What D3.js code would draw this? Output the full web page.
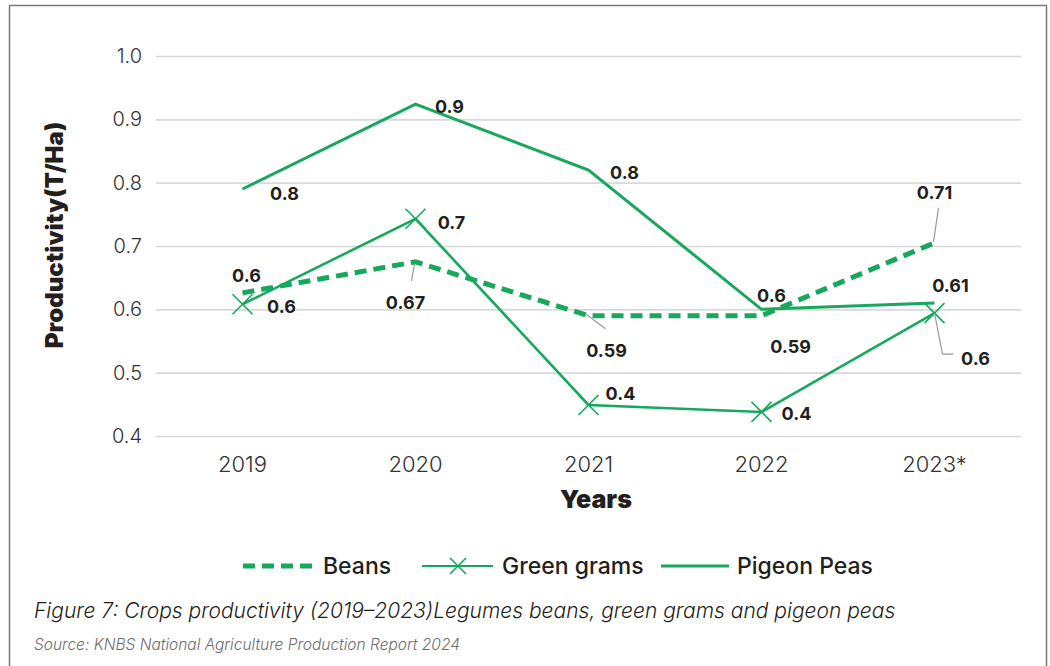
<!DOCTYPE html>
<html>
<head>
<meta charset="utf-8">
<script src="https://cdn.jsdelivr.net/npm/d3@7/dist/d3.min.js"></script>
<style>
  body { margin: 0; background: #fff; }
  svg { display: block; font-family: Inter, "Open Sans", sans-serif; }
</style>
</head>
<body>
<div id="chart"></div>
<script>
// chart values
const years = ["2019", "2020", "2021", "2022", "2023*"];
const yTicks = [0.4, 0.5, 0.6, 0.7, 0.8, 0.9, 1.0];

const beans = [0.626, 0.675, 0.59, 0.59, 0.705];
const greenGrams = [0.608, 0.743, 0.449, 0.438, 0.594];
const pigeonPeas = [0.79, 0.924, 0.82, 0.6, 0.61];

// the labels printed next to each point
const beansLabels = ["0.6", "0.67", "0.59", "0.59", "0.71"];
const greenGramsLabels = ["0.6", "0.7", "0.4", "0.4", "0.6"];
const pigeonPeasLabels = ["0.8", "0.9", "0.8", "0.6", "0.61"];

const W = 1050, H = 666;
const green = "#17a85e";
const ink = "#231f20";

const svg = d3.select("#chart").append("svg")
    .attr("width", W)
    .attr("height", H);

// outer frame
svg.append("rect")
    .attr("x", 9.5).attr("y", 5.5)
    .attr("width", 1037).attr("height", 700)
    .attr("fill", "none")
    .attr("stroke", "#7a7a7a")
    .attr("stroke-width", 1.5);

const x = d3.scaleBand().domain(years).range([156, 1021]);
const y = d3.scaleLinear().domain([0.4, 1.0]).range([436, 56]);
const cx = d => x(d) + x.bandwidth() / 2;

// grid + y ticks
const yAxis = svg.append("g")
    .attr("transform", "translate(156,0)")
    .call(d3.axisLeft(y).tickValues(yTicks).tickFormat(d3.format(".1f")).tickSize(-865).tickPadding(14));
yAxis.select(".domain").remove();
yAxis.selectAll(".tick line").attr("stroke", "#d9d9d9").attr("stroke-width", 1.6);
yAxis.selectAll(".tick text")
    .attr("fill", "#333")
    .attr("font-size", 20)
    .attr("font-family", "Inter, sans-serif")
    .attr("font-weight", 300);

// x ticks
const xAxis = svg.append("g")
    .attr("transform", "translate(0,436)")
    .call(d3.axisBottom(x).tickSize(0).tickPadding(20));
xAxis.select(".domain").remove();
xAxis.selectAll(".tick text")
    .attr("fill", "#333")
    .attr("font-size", 22)
    .attr("font-family", "Inter, sans-serif")
    .attr("font-weight", 300);

// axis titles
svg.append("text")
    .attr("transform", "translate(63,235) rotate(-90)")
    .attr("text-anchor", "middle")
    .attr("font-size", 24)
    .attr("font-weight", 900)
    .attr("fill", ink)
    .text("Productivity(T/Ha)");

svg.append("text")
    .attr("x", 596).attr("y", 508)
    .attr("text-anchor", "middle")
    .attr("font-size", 25)
    .attr("font-weight", 900)
    .attr("fill", ink)
    .text("Years");

const line = d3.line()
    .x((d, i) => cx(years[i]))
    .y(d => y(d));

// series lines
svg.append("path").datum(pigeonPeas)
    .attr("d", line)
    .attr("fill", "none").attr("stroke", green).attr("stroke-width", 3);

svg.append("path").datum(greenGrams)
    .attr("d", line)
    .attr("fill", "none").attr("stroke", green).attr("stroke-width", 2.6);

svg.append("path").datum(beans)
    .attr("d", line)
    .attr("fill", "none").attr("stroke", green).attr("stroke-width", 5)
    .attr("stroke-dasharray", "12,7");

// x markers on green grams
const mk = 10;
svg.append("g").selectAll("path")
    .data(greenGrams)
    .join("path")
    .attr("d", (d, i) => {
        const px = cx(years[i]), py = y(d);
        return `M${px - mk},${py - mk}L${px + mk},${py + mk}M${px - mk},${py + mk}L${px + mk},${py - mk}`;
    })
    .attr("stroke", green).attr("stroke-width", 1.6).attr("fill", "none");

// label offsets from each point (layout, not data)
const pigeonOff = [[42, 4], [34, 2], [36, 2], [10, -14], [16, -18]];
const gramsOff = [[39, 2], [36, 3], [32, -12], [35, 1], [41, 45]];
const beansOff = [[4, -18], [-10, 40], [18, 34], [29, 30], [0, -51]];

function addLabels(vals, labels, offs) {
    svg.append("g").selectAll("text")
        .data(vals)
        .join("text")
        .attr("x", (d, i) => cx(years[i]) + offs[i][0])
        .attr("y", (d, i) => y(d) + offs[i][1] + 7)
        .attr("text-anchor", "middle")
        .attr("font-size", 18)
        .attr("font-weight", 700)
        .attr("fill", ink)
        .text((d, i) => labels[i]);
}
addLabels(pigeonPeas, pigeonPeasLabels, pigeonOff);
addLabels(greenGrams, greenGramsLabels, gramsOff);
addLabels(beans, beansLabels, beansOff);

// leader lines
const leader = svg.append("g").attr("stroke", "#9a9a9a").attr("stroke-width", 1.2).attr("fill", "none");
leader.append("path").attr("d", `M${cx(years[1]) - 1},${y(beans[1]) + 2}L${cx(years[1]) - 4},${y(beans[1]) + 19}`);
leader.append("path").attr("d", `M${cx(years[2]) - 3},${y(beans[2]) - 2}L${cx(years[2]) + 17},${y(beans[2]) + 13}`);
leader.append("path").attr("d", `M${cx(years[4]) - 1},${y(beans[4]) - 1}L${cx(years[4]) + 4},${y(beans[4]) - 35}`);
leader.append("path").attr("d", `M${cx(years[4])},${y(greenGrams[4])}L${cx(years[4]) + 8},${y(greenGrams[4]) + 41}L${cx(years[4]) + 19},${y(greenGrams[4]) + 41}`);

// legend
const legend = svg.append("g").attr("transform", "translate(0,566)");
legend.append("line")
    .attr("x1", 243).attr("x2", 315)
    .attr("stroke", green).attr("stroke-width", 5).attr("stroke-dasharray", "12,7");
legend.append("line")
    .attr("x1", 422).attr("x2", 493)
    .attr("stroke", green).attr("stroke-width", 2);
legend.append("path")
    .attr("d", `M${458 - 8},-8L${458 + 8},8M${458 - 8},8L${458 + 8},-8`)
    .attr("stroke", green).attr("stroke-width", 1.6);
legend.append("line")
    .attr("x1", 661).attr("x2", 729)
    .attr("stroke", green).attr("stroke-width", 3);

const legendNames = [["Beans", 323], ["Green grams", 502], ["Pigeon Peas", 737]];
legend.selectAll("text.lg")
    .data(legendNames)
    .join("text")
    .attr("x", d => d[1]).attr("y", 8)
    .attr("font-size", 23)
    .attr("font-weight", 500)
    .attr("fill", ink)
    .text(d => d[0]);

// caption + source
svg.append("text")
    .attr("x", 34).attr("y", 618)
    .attr("font-size", 21)
    .attr("font-style", "italic")
    .attr("font-weight", 300)
    .attr("fill", ink)
    .text("Figure 7: Crops productivity (2019\u20132023)Legumes beans, green grams and pigeon peas");

svg.append("text")
    .attr("x", 34).attr("y", 650)
    .attr("font-size", 15.5)
    .attr("font-style", "italic")
    .attr("font-weight", 300)
    .attr("fill", "#6d6d6d")
    .text("Source: KNBS National Agriculture Production Report 2024");
</script>
</body>
</html>
